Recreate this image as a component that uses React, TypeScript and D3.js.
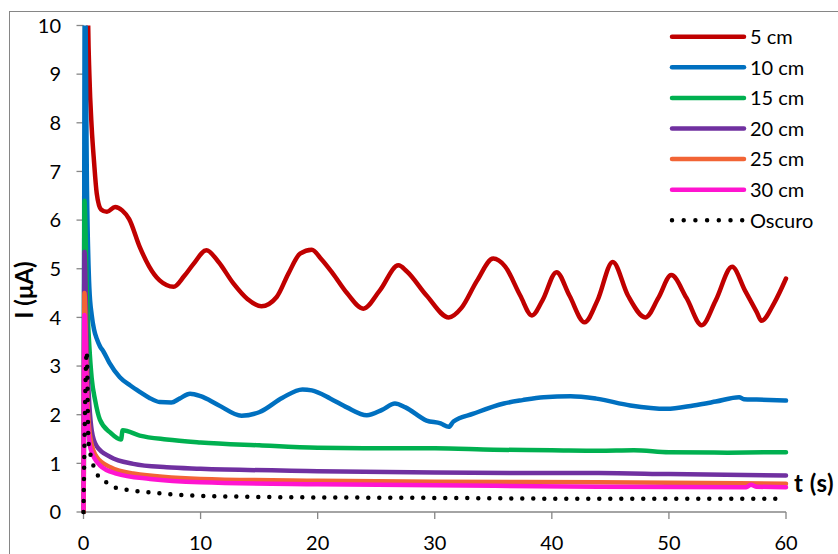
import React from "react";
import * as d3 from "d3";

type Pt = [number, number];

// Current (µA) vs time (s) for each lamp distance
const serie5cm: Pt[] = [
  [0.35, 11], [0.4, 10], [0.5, 9.0], [0.7, 7.9], [0.9, 7.2], [1.13, 6.55], [1.5, 6.22], [2.0, 6.17],
  [2.7, 6.27], [3.3, 6.2], [3.9, 6.02], [4.8, 5.45], [5.6, 5.05], [6.5, 4.76], [7.7, 4.63],
  [8.6, 4.85], [9.4, 5.1], [10.5, 5.38], [11.5, 5.15], [12.8, 4.7], [14.0, 4.38], [15.2, 4.23],
  [16.5, 4.42], [17.5, 4.9], [18.5, 5.31], [19.5, 5.39], [20.3, 5.2], [21.3, 4.9], [22.5, 4.5],
  [23.9, 4.18], [25.3, 4.55], [26.9, 5.07], [27.6, 4.95], [29.3, 4.45], [31.2, 4.0], [32.3, 4.2],
  [33.6, 4.75], [35.0, 5.21], [36.0, 5.05], [37.3, 4.45], [38.3, 4.04], [39.2, 4.35], [40.4, 4.93],
  [41.5, 4.45], [42.8, 3.9], [43.9, 4.35], [45.2, 5.14], [46.5, 4.45], [48.0, 4.0], [49.1, 4.4],
  [50.2, 4.87], [51.5, 4.4], [52.8, 3.84], [54.0, 4.35], [55.4, 5.04], [56.5, 4.55], [57.5, 4.11],
  [57.9, 3.93], [59.0, 4.3], [60.0, 4.8],
];

const serie10cm: Pt[] = [
  [0.02, 0], [0.12, 11], [0.3, 6.6], [0.5, 4.6], [0.7, 4.05], [0.9, 3.75], [1.15, 3.55],
  [1.42, 3.4], [1.7, 3.3], [2.2, 3.07], [3.1, 2.77], [4.0, 2.6], [4.8, 2.47], [5.6, 2.35],
  [6.5, 2.26], [7.5, 2.25], [8.2, 2.33], [9.1, 2.43], [10.0, 2.38], [11.5, 2.2], [13.5, 1.98],
  [15.0, 2.05], [17.0, 2.35], [18.7, 2.52], [19.5, 2.5], [21.1, 2.33], [22.5, 2.15], [24.2, 1.99],
  [25.5, 2.1], [26.6, 2.23], [27.5, 2.15], [29.3, 1.88], [30.5, 1.82], [31.2, 1.75], [31.6, 1.86],
  [33.3, 2.02], [35.9, 2.23], [37.5, 2.3], [39.3, 2.36], [41.6, 2.38], [43.8, 2.33], [46.7, 2.19],
  [49.8, 2.12], [52.1, 2.19], [54.0, 2.27], [56.0, 2.36], [56.4, 2.32], [57.5, 2.31], [60.0, 2.29],
];

const serie15cm: Pt[] = [
  [0.02, 0], [0.08, 6.4], [0.3, 4.4], [0.5, 3.4], [0.7, 2.75], [1.0, 2.29], [1.4, 1.9],
  [2.3, 1.63], [3.2, 1.49], [3.35, 1.68], [4.8, 1.57], [7.1, 1.49], [10.0, 1.43], [15.0, 1.37],
  [20.0, 1.32], [25.0, 1.31], [30.0, 1.31], [35.0, 1.28], [40.0, 1.27], [44.0, 1.26], [47.0, 1.27],
  [50.0, 1.23], [55.0, 1.22], [60.0, 1.23],
];

const serie20cm: Pt[] = [
  [0.02, 0], [0.08, 5.35], [0.3, 3.2], [0.5, 2.2], [0.7, 1.68], [1.13, 1.35], [2.3, 1.13],
  [4.25, 0.99], [7.1, 0.92], [10.0, 0.89], [20.0, 0.84], [30.0, 0.81], [40.0, 0.8], [44.0, 0.8],
  [50.0, 0.78], [60.0, 0.75],
];

const serie25cm: Pt[] = [
  [0.02, 0], [0.08, 4.5], [0.3, 2.5], [0.6, 1.5], [1.13, 1.13], [2.3, 0.92], [4.25, 0.79],
  [10.0, 0.68], [20.0, 0.64], [30.0, 0.62], [44.0, 0.61], [60.0, 0.58],
];

const serie30cm: Pt[] = [
  [0.0, 0.05], [0.08, 4.05], [0.3, 2.2], [0.6, 1.3], [1.4, 0.96], [2.8, 0.79], [5.7, 0.68],
  [10.0, 0.61], [20.0, 0.57], [30.0, 0.55], [44.0, 0.52], [56.6, 0.51], [57.0, 0.56], [57.5, 0.52],
  [60.0, 0.51],
];

const serieOscuro: Pt[] = [
  [0.0, 0.0], [0.28, 3.3], [0.42, 1.47], [0.56, 1.23], [0.8, 0.99], [1.13, 0.79], [1.84, 0.63],
  [2.55, 0.52], [3.4, 0.47], [5.4, 0.41], [9.1, 0.34], [15.0, 0.31], [20.0, 0.3], [30.0, 0.29],
  [44.0, 0.27], [60.0, 0.27],
];

const seriesNames = ["5 cm", "10 cm", "15 cm", "20 cm", "25 cm", "30 cm", "Oscuro"];
const seriesData = [serie5cm, serie10cm, serie15cm, serie20cm, serie25cm, serie30cm, serieOscuro];
const seriesColors = ["#C00000", "#0070C0", "#00B050", "#7030A0", "#F26435", "#FF14D0", "#000000"];

const xTicks = [0, 10, 20, 30, 40, 50, 60];
const yTicks = [0, 1, 2, 3, 4, 5, 6, 7, 8, 9, 10];

const W = 838;
const H = 554;
const FONT = "Lato, 'Open Sans', sans-serif";
const AXIS_GRAY = "#868686";

export default function App() {
  const x = d3.scaleLinear().domain([0, 60]).range([83.5, 786]);
  const y = d3.scaleLinear().domain([0, 10]).range([512, 25.5]);

  const line = d3
    .line<Pt>()
    .x((d) => x(d[0]))
    .y((d) => y(d[1]))
    .curve(d3.curveMonotoneX);

  const legendX0 = 672;
  const legendX1 = 744;
  const legendY0 = 36.7;
  const legendStep = 30.6;

  return (
    <svg
      width={W}
      height={H}
      style={{ position: "fixed", left: 0, top: 0, background: "#fff" }}
      fontFamily={FONT}
    >
      <defs>
        <clipPath id="plotClip">
          <rect x={x(0) - 4} y={y(10)} width={x(60) - x(0) + 8} height={y(0) - y(10) + 4} />
        </clipPath>
      </defs>
      <rect x={0} y={0} width={W} height={H} fill="#fff" />
      <rect x={9.5} y={11.5} width={W + 10} height={H + 10} fill="none" stroke={AXIS_GRAY} strokeWidth={1} />

      {/* axes */}
      <line x1={x(0)} x2={x(60)} y1={y(0)} y2={y(0)} stroke={AXIS_GRAY} strokeWidth={1.3} />
      <line x1={x(0)} x2={x(0)} y1={y(0)} y2={y(10)} stroke={AXIS_GRAY} strokeWidth={1.3} />
      {xTicks.map((t) => (
        <g key={`xt${t}`}>
          <line x1={x(t)} x2={x(t)} y1={y(0)} y2={y(0) + 7} stroke={AXIS_GRAY} strokeWidth={1.3} />
          <text x={x(t)} y={550} textAnchor="middle" fontSize={20} fill="#000">
            {t}
          </text>
        </g>
      ))}
      {yTicks.map((t) => (
        <g key={`yt${t}`}>
          <line x1={x(0) - 7} x2={x(0)} y1={y(t)} y2={y(t)} stroke={AXIS_GRAY} strokeWidth={1.3} />
          <text x={61} y={y(t) + 7.2} textAnchor="end" fontSize={20} fill="#000">
            {t}
          </text>
        </g>
      ))}

      {/* axis titles */}
      <text
        transform={`translate(33,290) rotate(-90)`}
        textAnchor="middle"
        fontSize={24}
        fontWeight="bold"
        fill="#000"
      >
        I (μA)
      </text>
      <text x={794} y={492} fontSize={24} fontWeight="bold" letterSpacing={0.5} fill="#000">
        t (s)
      </text>

      {/* series */}
      <g clipPath="url(#plotClip)">
        {seriesData.map((data, i) => {
          const dotted = i === seriesData.length - 1;
          return (
            <path
              key={seriesNames[i]}
              d={line(data) ?? ""}
              fill="none"
              stroke={seriesColors[i]}
              strokeWidth={4.5}
              strokeLinecap="round"
              strokeLinejoin="round"
              strokeDasharray={dotted ? "0 11" : undefined}
            />
          );
        })}
      </g>

      {/* legend */}
      {seriesNames.map((name, i) => {
        const ly = legendY0 + i * legendStep;
        const dotted = i === seriesNames.length - 1;
        return (
          <g key={`lg${name}`}>
            <line
              x1={legendX0}
              x2={legendX1}
              y1={ly}
              y2={ly}
              stroke={seriesColors[i]}
              strokeWidth={4.5}
              strokeLinecap="round"
              strokeDasharray={dotted ? "0 11.7" : undefined}
            />
            <text x={750} y={ly + 7.3} fontSize={20} fill="#000">
              {name}
            </text>
          </g>
        );
      })}
    </svg>
  );
}
